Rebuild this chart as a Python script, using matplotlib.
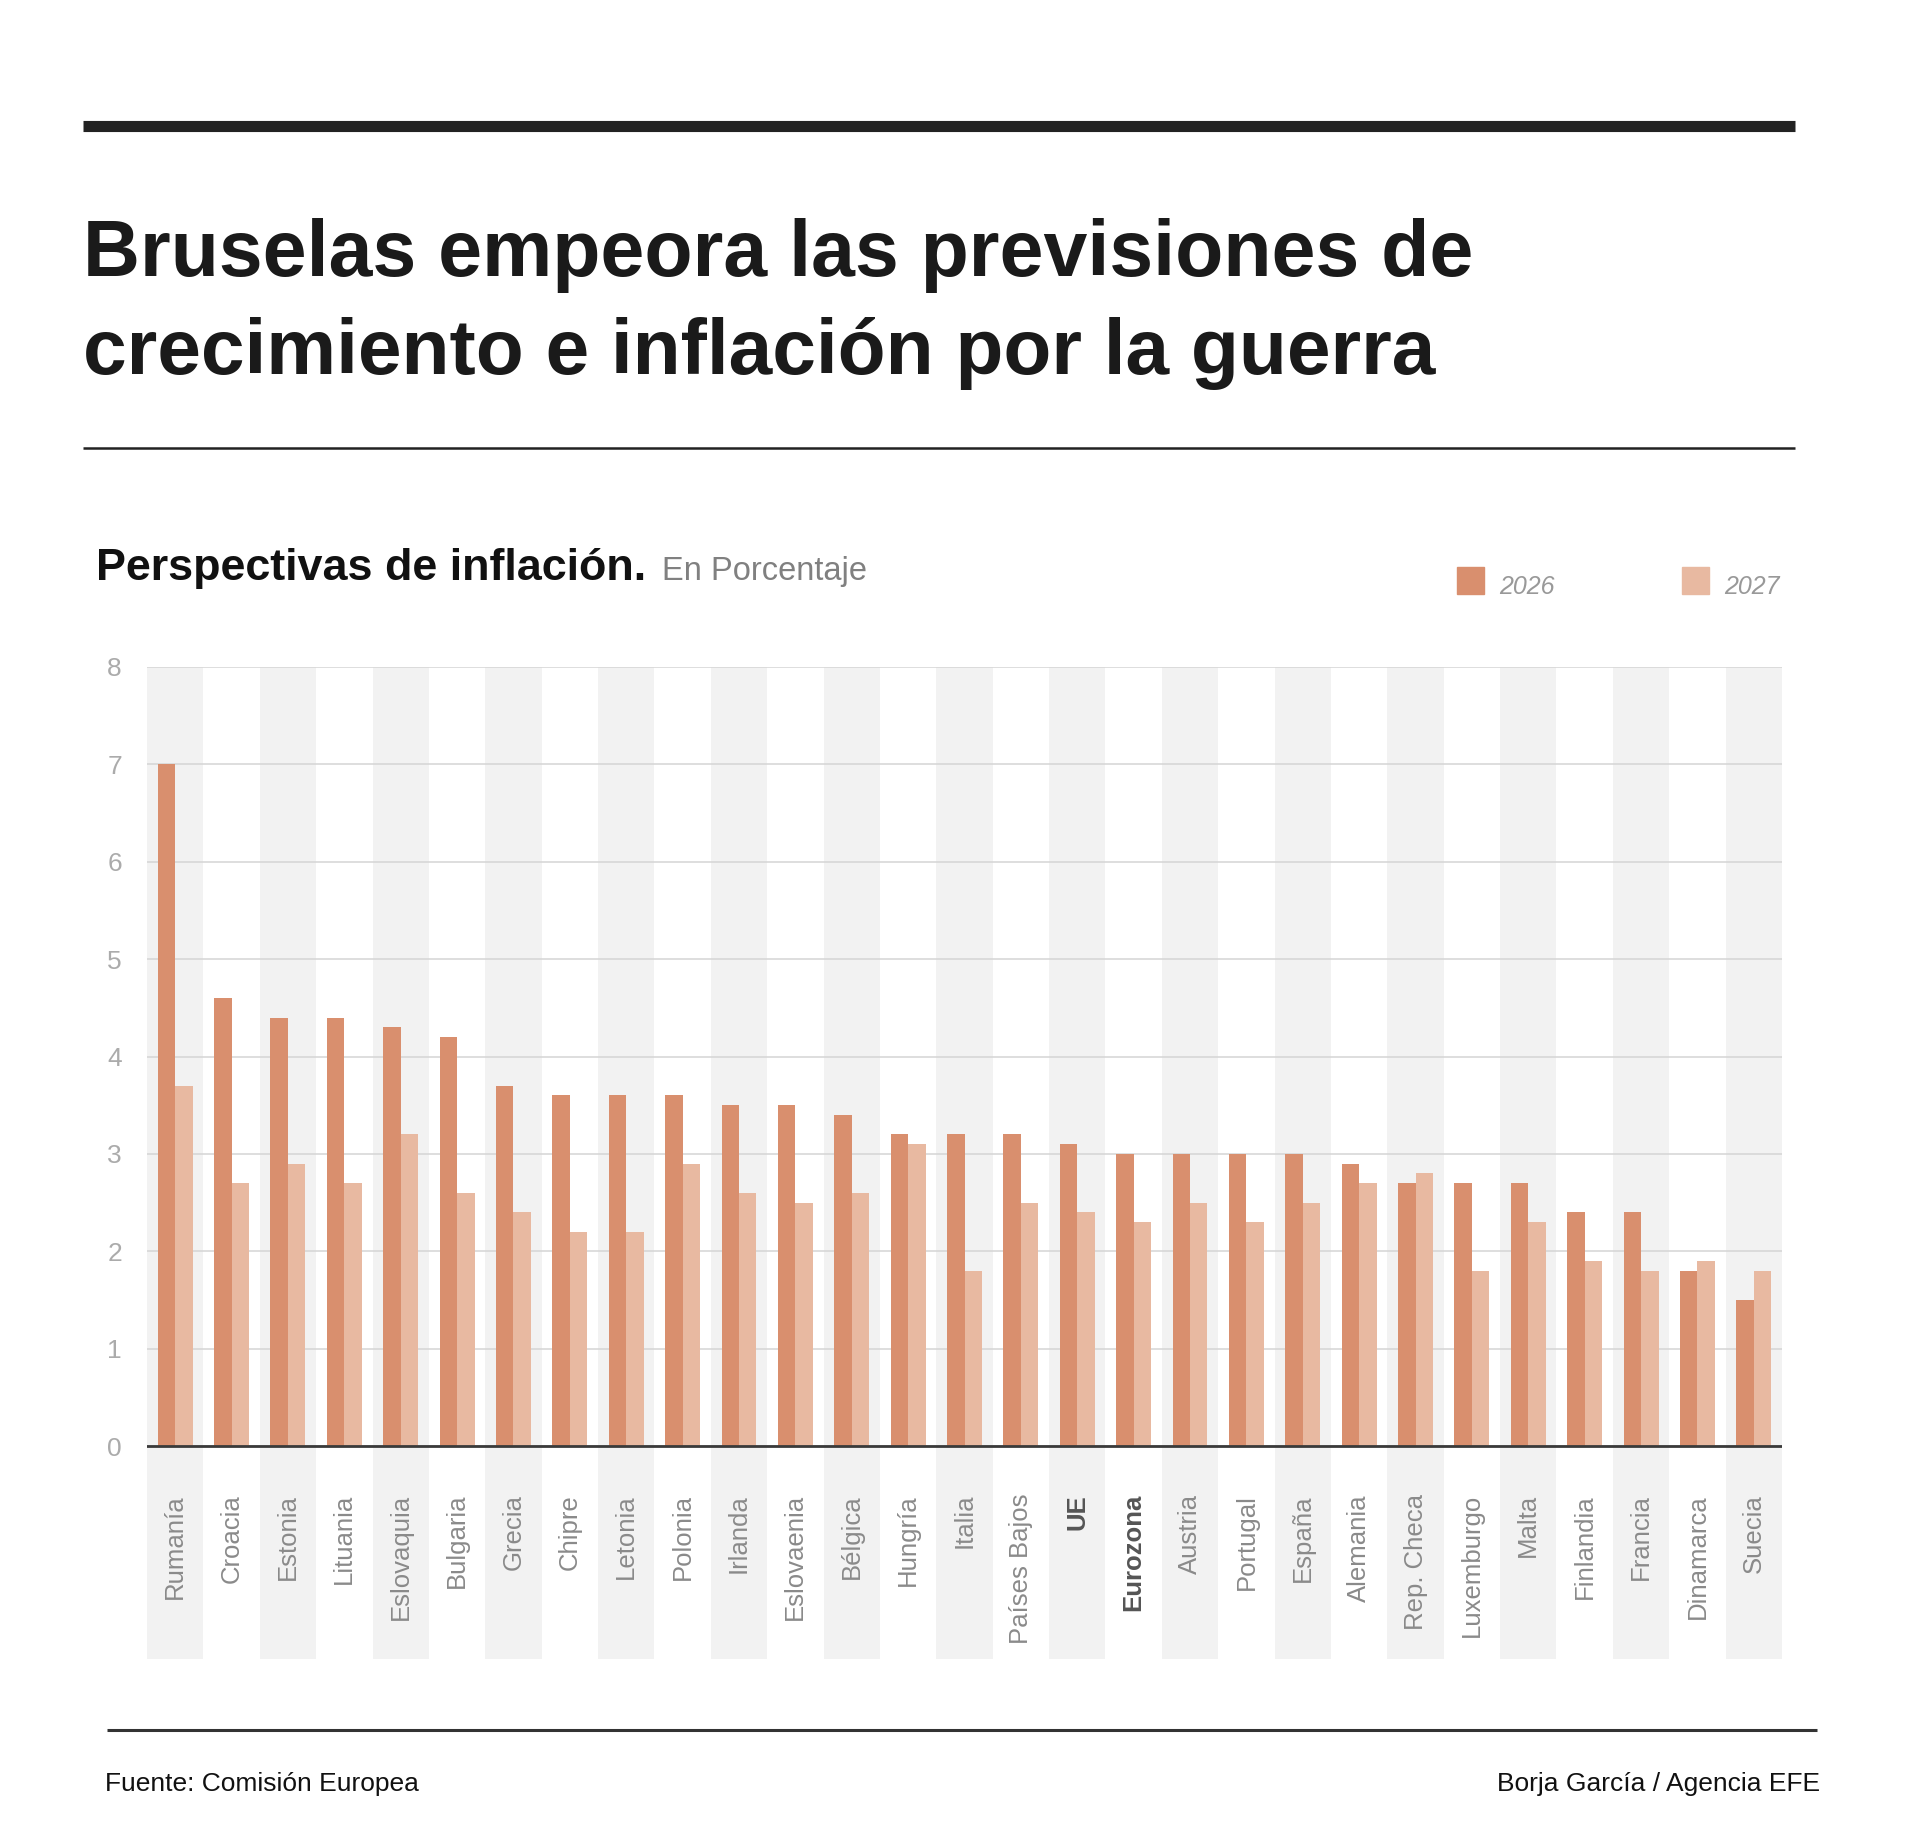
import matplotlib
matplotlib.use("Agg")
import matplotlib.pyplot as plt
from matplotlib.lines import Line2D
from matplotlib.patches import Rectangle
import numpy as np

# data
paises = ["Rumanía", "Croacia", "Estonia", "Lituania", "Eslovaquia", "Bulgaria",
          "Grecia", "Chipre", "Letonia", "Polonia", "Irlanda", "Eslovaenia",
          "Bélgica", "Hungría", "Italia", "Países Bajos", "UE", "Eurozona",
          "Austria", "Portugal", "España", "Alemania", "Rep. Checa", "Luxemburgo",
          "Malta", "Finlandia", "Francia", "Dinamarca", "Suecia"]
inf_2026 = [7.0, 4.6, 4.4, 4.4, 4.3, 4.2, 3.7, 3.6, 3.6, 3.6, 3.5, 3.5, 3.4, 3.2,
            3.2, 3.2, 3.1, 3.0, 3.0, 3.0, 3.0, 2.9, 2.7, 2.7, 2.7, 2.4, 2.4, 1.8, 1.5]
inf_2027 = [3.7, 2.7, 2.9, 2.7, 3.2, 2.6, 2.4, 2.2, 2.2, 2.9, 2.6, 2.5, 2.6, 3.1,
            1.8, 2.5, 2.4, 2.3, 2.5, 2.3, 2.5, 2.7, 2.8, 1.8, 2.3, 1.9, 1.8, 1.9, 1.8]
destacados = ["UE", "Eurozona"]
yticks = [0, 1, 2, 3, 4, 5, 6, 7, 8]

c26 = "#d98f6e"
c27 = "#e8b9a1"
sans = ["Liberation Sans", "DejaVu Sans"]

W, H = 1920, 1832
fig = plt.figure(figsize=(W / 100, H / 100), dpi=100)
fig.patch.set_facecolor("white")

def fx(px):
    return px / W

def fy(py):
    return 1 - py / H

# axes: y=8 at 667px, y=0 at 1446px, bands down to 1659px
top, zero, bottom = 667, 1446, 1659
unit = (zero - top) / 8
ymin = -(bottom - zero) / unit
ax = fig.add_axes([fx(147), fy(bottom), fx(1782 - 147), (bottom - top) / H])
ax.set_xlim(-0.5, len(paises) - 0.5)
ax.set_ylim(ymin, 8)
for s in ax.spines.values():
    s.set_visible(False)

x = np.arange(len(paises))
for i in x:
    if i % 2 == 0:
        ax.axvspan(i - 0.5, i + 0.5, color="#f2f2f2", zorder=0, lw=0)

for t in yticks:
    ax.axhline(t, color="#d4d4d4", lw=1.1, zorder=1)
ax.axhline(0, color="#3a3a3a", lw=2.0, zorder=4)

w = 0.31
ax.bar(x - w / 2, inf_2026, width=w, color=c26, zorder=3)
ax.bar(x + w / 2, inf_2027, width=w, color=c27, zorder=3)

ax.set_xticks([])
ax.set_yticks(yticks)
ax.set_yticklabels([str(t) for t in yticks], family=sans, fontsize=19, color="#ababab")
ax.tick_params(axis="y", length=0, pad=18)

lab_y = -(1494 - zero) / unit
for i, p in enumerate(paises):
    bold = p in destacados
    ax.text(i, lab_y, p, rotation=90, ha="center", va="top", family=sans,
            fontsize=18.5, color="#555555" if bold else "#8a8a8a",
            fontweight="bold" if bold else "normal")

# rules
fig.add_artist(Line2D([fx(83), fx(1795)], [fy(126), fy(126)], color="#222222",
                      lw=8, solid_capstyle="butt"))
fig.add_artist(Line2D([fx(83), fx(1795)], [fy(448), fy(448)], color="#222222",
                      lw=1.8, solid_capstyle="butt"))
fig.add_artist(Line2D([fx(107), fx(1817)], [fy(1730), fy(1730)], color="#333333",
                      lw=2.2, solid_capstyle="butt"))

# titles
fig.text(fx(83), fy(276), "Bruselas empeora las previsiones de", family=sans,
         fontsize=56.8, fontweight="bold", color="#1a1a1a", va="baseline")
fig.text(fx(83), fy(374), "crecimiento e inflación por la guerra", family=sans,
         fontsize=56.5, fontweight="bold", color="#1a1a1a", va="baseline")
fig.text(fx(96), fy(580), "Perspectivas de inflación.", family=sans,
         fontsize=32.3, fontweight="bold", color="#111111", va="baseline")
fig.text(fx(662), fy(580), "En Porcentaje", family=sans, fontsize=23.5,
         color="#808080", va="baseline")

# legend
for xs, lab, col in [(1457, "2026", c26), (1682, "2027", c27)]:
    fig.add_artist(Rectangle((fx(xs), fy(594)), fx(27), 27 / H, color=col,
                             transform=fig.transFigure))
    fig.text(fx(xs + 42), fy(594), lab, family=sans, fontsize=18,
             style="italic", color="#999999", va="baseline")

# footer
fig.text(fx(105), fy(1791), "Fuente: Comisión Europea", family=sans,
         fontsize=19, color="#111111", va="baseline")
fig.text(fx(1820), fy(1791), "Borja García / Agencia EFE", family=sans,
         fontsize=19, color="#111111", va="baseline", ha="right")

fig.savefig("out.png", dpi=100, facecolor="white")
